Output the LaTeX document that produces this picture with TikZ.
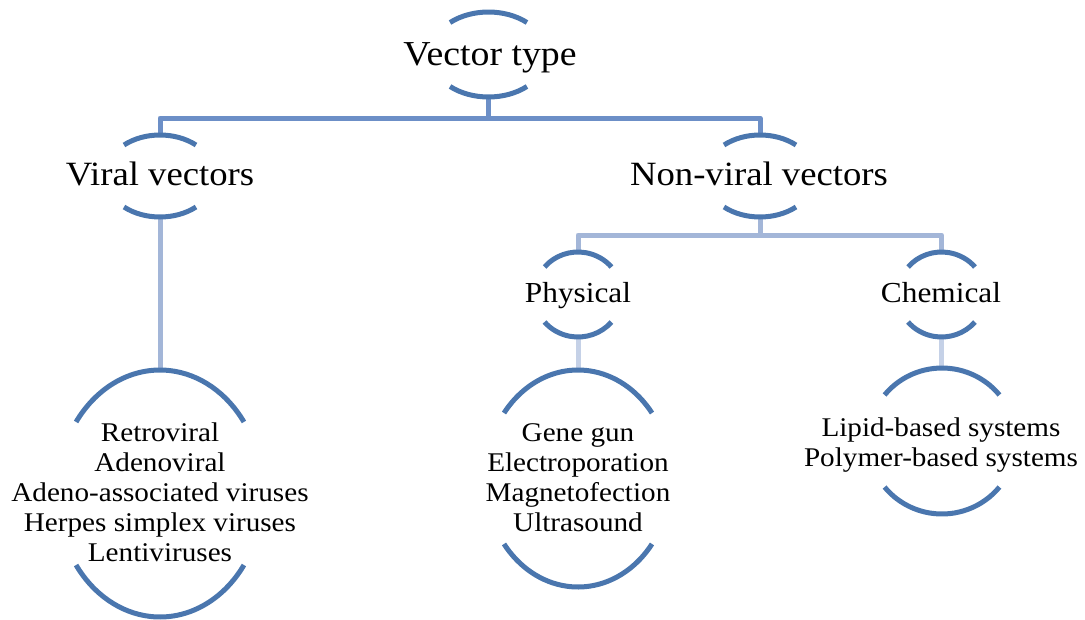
\documentclass[tikz,border=0pt]{standalone}
\usepackage{fontspec}
\setmainfont{Liberation Serif}
\newfontfamily\wfont[FakeStretch=1.08]{Liberation Serif}
\definecolor{arcblue}{HTML}{4A76AE}
\definecolor{linkA}{HTML}{6C8FC7}
\definecolor{linkB}{HTML}{A3B6D8}
\definecolor{linkC}{HTML}{C5D1E7}
\newcommand\bracketpair[6]{%
  \coordinate (#1) at (#2,#3);
  \coordinate (#1-t) at ([shift={(0,-#5)}]#1);
  \coordinate (#1-b) at ([shift={(0,#5)}]#1);
  \draw[arcline] ([shift={(180+#6:#4 and #5)}]#1) arc[start angle=180+#6, end angle=360-#6, x radius=#4, y radius=#5];
  \draw[arcline] ([shift={(#6:#4 and #5)}]#1) arc[start angle=#6, end angle=180-#6, x radius=#4, y radius=#5];
}
\begin{document}
\begin{tikzpicture}[x=1pt,y=-1pt,
  arcline/.style={draw=arcblue, line width=5pt},
  linkone/.style={draw=linkA, line width=5pt, line join=round},
  linktwo/.style={draw=linkB, line width=5pt, line join=round},
  linkthree/.style={draw=linkC, line width=5pt},
  lvlone/.style={inner sep=0pt, font=\wfont\fontsize{35}{43}\selectfont},
  lvltwo/.style={inner sep=0pt, font=\wfont\fontsize{34}{40}\selectfont},
  lvlthree/.style={inner sep=0pt, font=\wfont\fontsize{29}{34}\selectfont},
  listtext/.style={inner sep=0pt, align=center, font=\wfont\fontsize{27}{30}\selectfont}]
\useasboundingbox (0,0) rectangle (1085,619);

% junction points
\coordinate (j1) at (488.5,118);
\coordinate (j2) at (760,235);

% connector end points on the brackets
\coordinate (vt-b) at (488.5,97);
\coordinate (vv-t) at (160,135);
\coordinate (vv-b) at (160,217);
\coordinate (nv-t) at (760,135);
\coordinate (nv-b) at (760,217);
\coordinate (ph-t) at (578,252);
\coordinate (ph-b) at (578,337);
\coordinate (ch-t) at (941.5,252);
\coordinate (ch-b) at (941.5,337);
\coordinate (vl-t) at (160,370);
\coordinate (pl-t) at (578,370);
\coordinate (cl-t) at (941.5,368);

% connectors
\draw[linkone] (vt-b) -- (j1);
\draw[linkone] (j1) -| (vv-t);
\draw[linkone] (j1) -| (nv-t);
\draw[linktwo] (vv-b) -- (vl-t);
\draw[linktwo] (nv-b) -- (j2);
\draw[linktwo] (j2) -| (ph-t);
\draw[linktwo] (j2) -| (ch-t);
\draw[linkthree] (ph-b) -- (pl-t);
\draw[linkthree] (ch-b) -- (cl-t);

% brackets
\bracketpair{avt}{488.5}{54.5}{58.4}{42.5}{48.8}
\bracketpair{avv}{160}{176}{55}{41}{49.1}
\bracketpair{anv}{760}{176}{55}{41}{49.1}
\bracketpair{aph}{578}{294.5}{43.9}{42.5}{40.3}
\bracketpair{ach}{941.5}{294.5}{43.9}{42.5}{40.3}
\bracketpair{avl}{160}{493.5}{103}{123.5}{35.4}
\bracketpair{apl}{578}{478.5}{92.8}{108.5}{37.1}
\bracketpair{acl}{942}{441}{74}{73}{39.1}

% texts
\node[lvlone, anchor=base] (tvt) at (490,65) {Vector type};
\node[lvltwo, anchor=base] (tvv) at (160,185) {Viral vectors};
\node[lvltwo, anchor=base] (tnv) at (759,185) {Non-viral vectors};
\node[lvlthree, anchor=base] (tph) at (578,302) {Physical};
\node[lvlthree, anchor=base] (tch) at (941,302) {Chemical};
\node[listtext] (tvl) at (160,492.5) {Retroviral\\Adenoviral\\Adeno-associated viruses\\Herpes simplex viruses\\Lentiviruses};
\node[listtext] (tpl) at (578,478) {Gene gun\\Electroporation\\Magnetofection\\Ultrasound};
\node[listtext] (tcl) at (941,445) {Lipid-based systems\\Polymer-based systems};
\end{tikzpicture}
\end{document}
